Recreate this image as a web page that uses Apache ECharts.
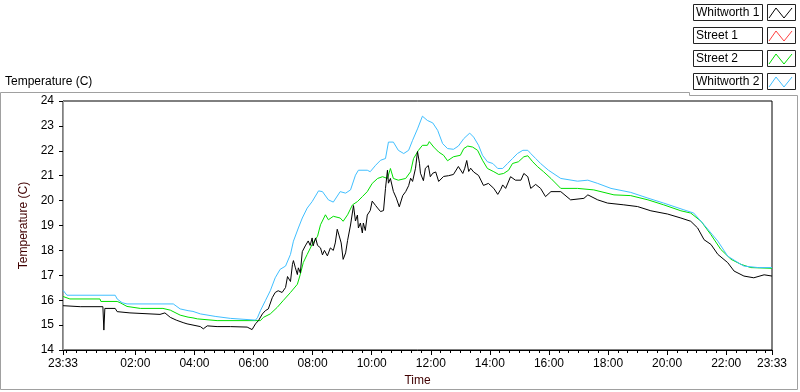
<!DOCTYPE html>
<html>
<head>
<meta charset="utf-8">
<script src="https://cdn.jsdelivr.net/npm/echarts@6/dist/echarts.min.js"></script>
<style>
  html, body { margin: 0; padding: 0; background: #fff; }
  #chart { width: 800px; height: 392px; }
</style>
</head>
<body>
<div id="chart"></div>
<script>
// Tiempo en minutos desde las 23:33 (inicio del registro)
const seriesNames = ['Whitworth 1', 'Street 1', 'Street 2', 'Whitworth 2'];
const seriesColors = ['#000000', '#ff4040', '#00e000', '#40bfff'];

const labelMinutes = [0, 147, 267, 387, 507, 627, 747, 867, 987, 1107, 1227, 1347, 1440];
const yTicks = [14, 15, 16, 17, 18, 19, 20, 21, 22, 23, 24];

const w1Time = [0, 35, 81, 83, 85, 106, 110, 136, 197, 207, 218, 230, 244, 252, 279, 285, 293, 313, 340, 374, 384, 391, 397, 405, 411, 417, 425, 431, 437, 445,
  452, 456, 462, 466, 468, 472, 476, 478, 482, 486, 492, 496, 498, 502, 506, 508, 513, 517, 523, 527, 531, 537, 543, 549, 553, 557, 561, 565, 569, 574, 578,
  584, 590, 594, 598, 600, 604, 608, 610, 614, 618, 624, 628, 635, 639, 645, 651, 655, 659, 661, 665, 671, 677, 683, 690, 696, 702, 706, 710, 716, 720, 724,
  726, 732, 736, 742, 746, 751, 757, 763, 773, 783, 793, 803, 812, 816, 820, 824, 828, 834, 844, 854, 864, 875, 883, 889, 893,
  899, 909, 919, 930, 936, 944, 950, 960, 970, 980, 991, 1011, 1031, 1058, 1066, 1086, 1106, 1139, 1167, 1194, 1228, 1255, 1275, 1289, 1302, 1316, 1330, 1350, 1363, 1383, 1403, 1424, 1440];
const w1Temp = [15.78, 15.74, 15.74, 14.8, 15.67, 15.67, 15.54, 15.49, 15.43, 15.49, 15.31, 15.2, 15.1, 15.05, 14.94, 14.85, 14.97, 14.94, 14.94, 14.92, 14.82, 15.05, 15.18, 15.45, 15.58, 15.65, 16.1, 16.31, 16.38, 16.31,
  16.51, 16.95, 16.75, 17.44, 17.59, 17.3, 17.03, 17.3, 17.1, 17.95, 18.18, 18.24, 18.38, 18.2, 18.5, 18.18, 18.5, 18.2, 18.1, 17.82, 18.0, 17.78, 18.1, 18.0, 18.3, 18.85, 18.58, 18.3, 17.64, 17.9, 18.4,
  19.02, 19.8, 19.18, 19.42, 18.9, 19.1, 18.7, 19.1, 18.8, 19.42, 19.6, 19.98, 19.8, 19.7, 19.56, 19.6, 20.49, 21.22, 20.7, 20.89, 20.37, 20.1, 19.75, 20.2, 20.36, 20.6, 20.9, 20.77, 21.3, 21.97, 21.5,
  21.1, 20.8, 21.3, 21.41, 20.96, 21.1, 21.15, 20.77, 20.97, 21.0, 21.05, 21.37, 21.09, 21.3, 21.61, 21.17, 21.3, 21.15, 21.01, 20.61, 20.69, 20.49, 20.25, 20.45, 20.63,
  20.49, 20.96, 20.82, 20.82, 21.09, 20.96, 20.49, 20.65, 20.49, 20.16, 20.36, 20.36, 20.03, 20.09, 20.23, 20.03, 19.9, 19.83, 19.76, 19.59, 19.46, 19.3, 19.17, 18.9, 18.43, 18.24, 17.84, 17.51, 17.17, 16.97, 16.9, 17.02, 16.97];

// Street 1 no aparece en la gráfica (sin datos visibles)
const s1Time = [];
const s1Temp = [];

const s2Time = [0, 14, 75, 77, 110, 116, 130, 157, 203, 207, 218, 238, 254, 264, 273, 313, 401, 407, 421, 435, 447, 462, 476, 482, 488, 496, 506, 517, 523, 533, 539, 549, 563, 569, 578, 588, 598, 608, 618, 628, 639, 649, 659, 665, 671, 681, 696, 706, 712, 722, 730, 740, 744, 753, 763, 773, 781, 793, 807, 814, 822, 832, 842, 852, 862, 875, 885, 895, 905, 913, 925, 936, 944, 954, 964, 976, 991, 1011, 1045, 1078, 1119, 1153, 1188, 1220, 1255, 1275, 1296, 1316, 1336, 1357, 1377, 1397, 1440];
const s2Temp = [16.15, 16.05, 16.05, 15.95, 15.95, 15.9, 15.75, 15.67, 15.67, 15.75, 15.6, 15.4, 15.32, 15.29, 15.25, 15.18, 15.18, 15.31, 15.45, 15.71, 15.98, 16.31, 16.64, 17.04, 17.51, 17.84, 18.24, 18.57, 19.03, 19.43, 19.23, 19.37, 19.3, 19.17, 19.43, 19.83, 19.96, 20.16, 20.36, 20.69, 20.89, 20.96, 20.89, 21.29, 20.89, 20.82, 20.89, 21.16, 21.69, 22.02, 22.22, 22.22, 22.37, 22.15, 21.95, 21.82, 21.6, 21.76, 21.82, 22.09, 22.19, 22.15, 22.02, 21.62, 21.29, 21.16, 21.05, 21.09, 21.22, 21.49, 21.56, 21.76, 21.8, 21.56, 21.36, 21.16, 20.89, 20.49, 20.49, 20.43, 20.23, 20.2, 20.03, 19.83, 19.59, 19.5, 19.17, 18.63, 18.04, 17.64, 17.44, 17.31, 17.28];

const w2Time = [0, 8, 106, 110, 120, 130, 224, 238, 254, 264, 279, 309, 340, 391, 395, 401, 411, 421, 431, 441, 452, 462, 468, 478, 486, 496, 506, 519, 527, 539, 549, 563, 574, 584, 594, 600, 618, 624, 635, 645, 655, 661, 671, 681, 692, 702, 710, 720, 730, 740, 751, 761, 771, 781, 793, 803, 814, 826, 834, 844, 852, 862, 873, 883, 893, 903, 913, 923, 934, 944, 950, 960, 970, 986, 1011, 1045, 1066, 1086, 1113, 1153, 1188, 1220, 1261, 1281, 1302, 1330, 1350, 1371, 1383, 1412, 1440];
const w2Temp = [16.4, 16.2, 16.2, 16.05, 15.9, 15.85, 15.85, 15.65, 15.58, 15.55, 15.45, 15.35, 15.27, 15.2, 15.3, 15.58, 15.98, 16.38, 16.9, 17.24, 17.37, 17.84, 18.37, 18.9, 19.3, 19.7, 19.96, 20.39, 20.36, 20.03, 19.94, 20.36, 20.3, 20.43, 21.02, 21.22, 21.22, 21.16, 21.42, 21.62, 21.69, 22.35, 22.35, 22.02, 21.89, 22.02, 22.42, 22.88, 23.39, 23.22, 23.12, 22.82, 22.29, 22.09, 22.06, 22.19, 22.49, 22.71, 22.55, 22.22, 21.82, 21.56, 21.49, 21.29, 21.29, 21.49, 21.69, 21.89, 22.02, 22.02, 21.89, 21.69, 21.49, 21.22, 20.89, 20.78, 20.82, 20.69, 20.49, 20.33, 20.1, 19.9, 19.63, 19.5, 19.03, 18.37, 17.77, 17.51, 17.37, 17.31, 17.31];

const FONT = 'Liberation Sans';

function toClock(m) {
  const total = (23 * 60 + 33 + Math.round(m)) % 1440;
  const h = Math.floor(total / 60);
  const mm = total % 60;
  return String(h).padStart(2, '0') + ':' + String(mm).padStart(2, '0');
}

function pairs(times, temps) {
  return times.map((t, i) => [t, temps[i]]);
}

// marcas menores cada 20 min alineadas con la hora del reloj
const minorTicks = [0];
for (let m = 7; m < 1440; m += 20) minorTicks.push(m);
minorTicks.push(1440);

const chart = echarts.init(document.getElementById('chart'));

// leyenda tipo LabVIEW (caja de texto + muestra de línea)
const legendGraphics = [];
const legendTops = [4, 27, 50, 73];
seriesNames.forEach((name, i) => {
  const y = legendTops[i];
  legendGraphics.push({
    type: 'rect', shape: { x: 693.5, y: y + 0.5, width: 69, height: 16 },
    style: { fill: '#fff', stroke: '#222', lineWidth: 1 }
  });
  legendGraphics.push({
    type: 'text', x: 696, y: y + 9,
    style: { text: name, font: '12px ' + FONT, fill: '#000', textVerticalAlign: 'middle' }
  });
  legendGraphics.push({
    type: 'rect', shape: { x: 767.5, y: y + 0.5, width: 28, height: 16 },
    style: { fill: '#fff', stroke: '#222', lineWidth: 1 }
  });
  legendGraphics.push({
    type: 'polyline',
    shape: { points: [[769, y + 14], [776, y + 4], [784, y + 14], [792, y + 4]] },
    style: { stroke: seriesColors[i], lineWidth: 1, fill: null }
  });
});

const option = {
  backgroundColor: '#fff',
  animation: false,
  textStyle: { fontFamily: FONT },
  grid: {
    left: 63, top: 101, right: 28, bottom: 39,
    show: true, borderColor: '#000', borderWidth: 1
  },
  graphic: [
    // marco exterior
    {
      type: 'polyline',
      shape: { points: [[0.5, 389.5], [0.5, 92.5], [689.5, 92.5], [689.5, 95.5], [797.5, 95.5], [797.5, 389.5], [0.5, 389.5]] },
      style: { stroke: '#a0a0a0', lineWidth: 1, fill: null }
    },
    {
      type: 'text', x: 5, y: 82,
      style: { text: 'Temperature (C)', font: '12px ' + FONT, fill: '#000', textVerticalAlign: 'middle' }
    }
  ].concat(legendGraphics),
  xAxis: [
    {
      type: 'value', min: 0, max: 1440,
      name: 'Time', nameLocation: 'middle', nameGap: 25,
      nameTextStyle: { color: '#400000', fontSize: 12 },
      axisLine: { lineStyle: { color: '#000' } },
      axisTick: { length: 5, lineStyle: { color: '#000' }, customValues: labelMinutes },
      axisLabel: {
        color: '#000', fontSize: 12, margin: 8, hideOverlap: false,
        customValues: labelMinutes,
        formatter: v => toClock(v)
      },
      splitLine: { show: false }
    },
    {
      type: 'value', min: 0, max: 1440, position: 'bottom',
      axisLine: { show: false },
      axisTick: { length: 3, lineStyle: { color: '#000' }, customValues: minorTicks },
      axisLabel: { show: false },
      splitLine: { show: false }
    }
  ],
  yAxis: [
    {
      type: 'value', min: 14, max: 24, interval: 1,
      name: 'Temperature (C)', nameLocation: 'middle', nameGap: 26,
      nameTextStyle: { color: '#400000', fontSize: 12 },
      axisLine: { show: true, lineStyle: { color: '#000' } },
      axisTick: { show: true, length: 4, lineStyle: { color: '#000' } },
      axisLabel: { color: '#000', fontSize: 12, margin: 9 },
      splitLine: { show: false }
    },
    {
      type: 'value', min: 14, max: 24, position: 'right',
      axisLine: { show: true, lineStyle: { color: '#a0a0a0' } },
      axisTick: { show: false }, axisLabel: { show: false }, splitLine: { show: false }
    }
  ],
  series: [
    { name: seriesNames[1], data: pairs(s1Time, s1Temp), color: seriesColors[1] },
    { name: seriesNames[2], data: pairs(s2Time, s2Temp), color: seriesColors[2] },
    { name: seriesNames[3], data: pairs(w2Time, w2Temp), color: seriesColors[3] },
    { name: seriesNames[0], data: pairs(w1Time, w1Temp), color: seriesColors[0] }
  ].map(s => Object.assign({
    type: 'line', showSymbol: false, symbol: 'none',
    lineStyle: { width: 1, color: s.color }, z: 3
  }, s))
};

chart.setOption(option);
</script>
</body>
</html>
